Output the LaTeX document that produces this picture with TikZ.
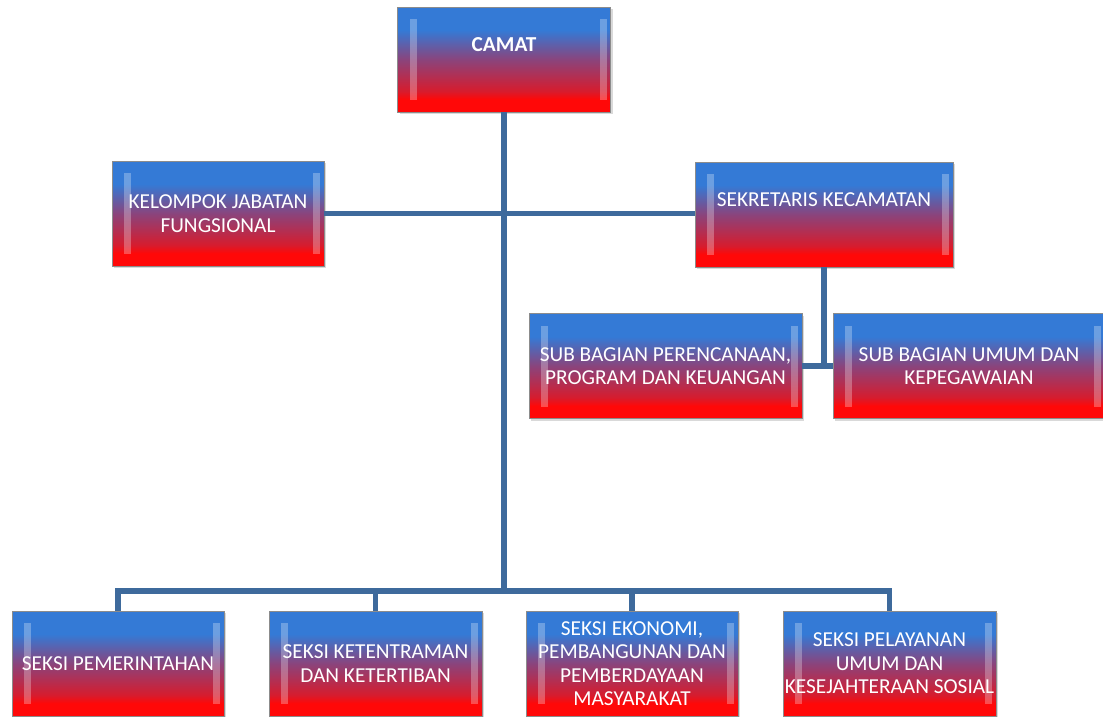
\documentclass[tikz,border=0pt]{standalone}
\usepackage{fontspec}
\setmainfont{Carlito}
\usetikzlibrary{shadows}
\definecolor{boxblue}{RGB}{52,122,214}
\definecolor{boxmid}{RGB}{138,68,124}
\definecolor{boxred}{RGB}{214,28,46}
\definecolor{boxbright}{RGB}{255,8,8}
\definecolor{linkblue}{RGB}{62,106,156}
\pgfdeclareverticalshading{orgshade}{100bp}{color(0bp)=(boxbright); color(25bp)=(boxbright); color(31bp)=(boxbright); color(35bp)=(boxred); color(50bp)=(boxmid); color(64bp)=(boxblue); color(75bp)=(boxblue); color(100bp)=(boxblue)}
\begin{document}
\begin{tikzpicture}
    [x=1pt,y=-1pt,
     unit/.style={rectangle, minimum width=213pt, minimum height=105pt, inner sep=0pt,
       align=center, text=white, font=\fontsize{21.3}{23.5}\selectfont,
       shade, shading=orgshade, draw=black!45, line width=.6pt,
       drop shadow={opacity=.3, shadow xshift=2pt, shadow yshift=-2pt},
       path picture={
         \fill[white,fill opacity=.28]
           ([xshift=12pt,yshift=-12pt]path picture bounding box.north west) rectangle
           ([xshift=19pt,yshift=12pt]path picture bounding box.south west);
         \fill[white,fill opacity=.28]
           ([xshift=-11pt,yshift=-12pt]path picture bounding box.north east) rectangle
           ([xshift=-4pt,yshift=12pt]path picture bounding box.south east);}},
     raised/.style={text depth=29pt},
     link/.style={draw=linkblue, line width=5.5pt}]
    \useasboundingbox (0,0) rectangle (1103,716);
    \node[unit,raised,font=\fontsize{21.3}{23.5}\selectfont\bfseries] (camat) at (504,59.5) {CAMAT};
    \node[unit,minimum width=212pt] (kelompok) at (218,213.5) {KELOMPOK JABATAN\\FUNGSIONAL};
    \node[unit,raised,minimum width=258pt] (sekcam) at (824,214.5) {SEKRETARIS KECAMATAN};
    \node[unit,minimum width=273pt] (subprog) at (665.5,366) {SUB BAGIAN PERENCANAAN,\\PROGRAM DAN KEUANGAN};
    \node[unit,minimum width=272pt] (subumum) at (969,366) {SUB BAGIAN UMUM DAN\\KEPEGAWAIAN};
    \node[unit,minimum width=212pt] (pem) at (118,663.5) {SEKSI PEMERINTAHAN};
    \node[unit] (trantib) at (375.5,663.5) {SEKSI KETENTRAMAN\\DAN KETERTIBAN};
    \node[unit,minimum width=212pt] (ekbang) at (632,663.5)
      {SEKSI EKONOMI,\\PEMBANGUNAN DAN\\PEMBERDAYAAN\\MASYARAKAT};
    \node[unit] (kesos) at (889.5,663.5)
      {SEKSI PELAYANAN\\UMUM DAN\\KESEJAHTERAAN SOSIAL};
    \coordinate (bus) at (504,591);
    \draw[link] (camat.south) -- (bus);
    \draw[link] (kelompok.east) -- (kelompok.east -| sekcam.west);
    \draw[link] (pem.north) |- (bus) -| (kesos.north);
    \draw[link] (trantib.north) -- (trantib.north |- bus);
    \draw[link] (ekbang.north) -- (ekbang.north |- bus);
    \draw[link] (sekcam.south) |- (subprog.east);
    \draw[link] (sekcam.south) |- (subumum.west);
\end{tikzpicture}
\end{document}
